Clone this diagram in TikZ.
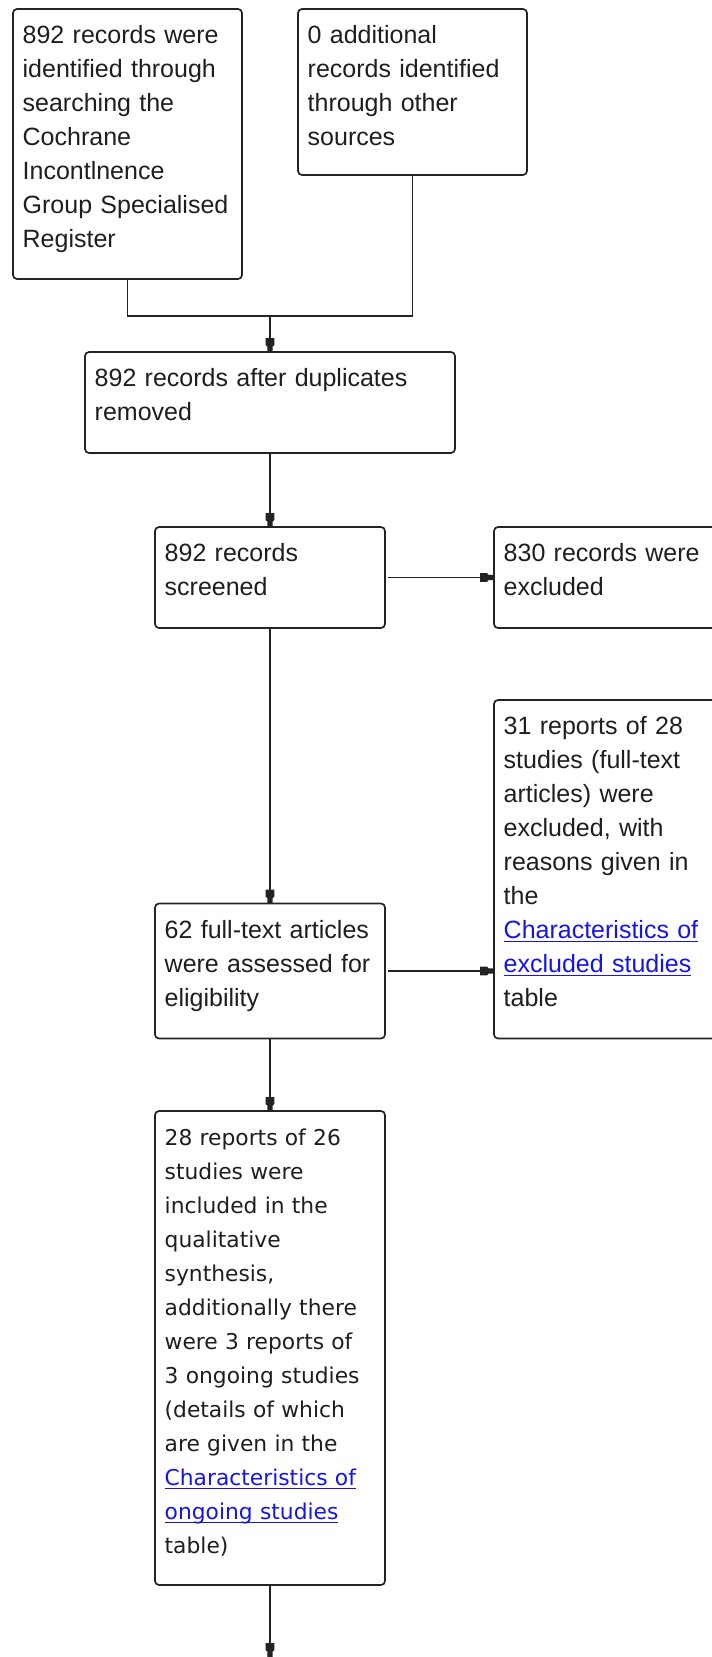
\documentclass[tikz,border=0pt]{standalone}
\usepackage{fontspec}
\setmainfont{Liberation Sans}
\newfontfamily\boxeightfont{DejaVu Sans}
\usetikzlibrary{arrows.meta}
\definecolor{linkblue}{RGB}{20,20,235}
\definecolor{ink}{RGB}{30,30,30}
\definecolor{edgec}{RGB}{35,35,35}
\newcommand{\lnk}[1]{\leavevmode{\color{linkblue}\setbox0=\hbox{#1}\rlap{\rule[-3.5pt]{\wd0}{1.4pt}}\box0}}
\pgfdeclarearrow{
  name=Blk,
  setup code={\pgfarrowssettipend{0pt}\pgfarrowssetlineend{-11pt}\pgfarrowssetbackend{-14pt}},
  drawing code={
    \pgfpathmoveto{\pgfqpoint{0pt}{2.5pt}}
    \pgfpathlineto{\pgfqpoint{-5.5pt}{2.7pt}}
    \pgfpathlineto{\pgfqpoint{-7pt}{4.4pt}}
    \pgfpathlineto{\pgfqpoint{-14pt}{4.4pt}}
    \pgfpathlineto{\pgfqpoint{-14pt}{-4.4pt}}
    \pgfpathlineto{\pgfqpoint{-7pt}{-4.4pt}}
    \pgfpathlineto{\pgfqpoint{-5.5pt}{-2.7pt}}
    \pgfpathlineto{\pgfqpoint{0pt}{-2.5pt}}
    \pgfpathclose
    \pgfusepathqfill
  }
}
\begin{document}
\begin{tikzpicture}[x=1pt,y=-1pt,
  box/.style={draw=edgec, line width=1.7pt, rounded corners=4pt, inner sep=0pt, outer sep=0pt, anchor=north west},
  txt/.style={anchor=base west, inner sep=0pt, text width=330pt, align=left, text=ink, font=\fontsize{25}{34}\selectfont},
  txtb/.style={txt, font=\boxeightfont\fontsize{21.8}{34}\selectfont},
  conn/.style={draw=edgec, line width=1.7pt},
  arr/.style={conn, -{Blk}}
]
\useasboundingbox (0,0) rectangle (712,1657);

\node[box, minimum width=229pt, minimum height=270pt] (b1) at (13,9) {};
\node[box, minimum width=229pt, minimum height=166pt] (b2) at (298,9) {};
\node[box, minimum width=370pt, minimum height=101pt] (b3) at (85,352) {};
\node[box, minimum width=230pt, minimum height=101pt] (b4) at (155,527) {};
\node[box, minimum width=230pt, minimum height=101pt] (b5) at (494,527) {};
\node[box, minimum width=230pt, minimum height=338.5pt] (b6) at (494,700) {};
\node[box, minimum width=230pt, minimum height=135pt] (b7) at (155,903.5) {};
\node[box, minimum width=230pt, minimum height=474pt] (b8) at (155,1111) {};

\node[txt] (t1) at (22.5,43.5) {892 records were\\identified through\\searching the\\Cochrane\\Incontlnence\\Group Specialised\\Register};
\node[txt] (t2) at (307.5,43.5) {0 additional\\records identified\\through other\\sources};
\node[txt] (t3) at (94.5,386.5) {892 records after duplicates\\removed};
\node[txt] (t4) at (164.5,561.5) {892 records\\screened};
\node[txt] (t5) at (503.5,561.5) {830 records were\\excluded};
\node[txt] (t6) at (503.5,734.5) {31 reports of 28\\studies (full-text\\articles) were\\excluded, with\\reasons given in\\the\\\lnk{Characteristics of}\\\lnk{excluded studies}\\table};
\node[txt] (t7) at (164.5,938) {62 full-text articles\\were assessed for\\eligibility};
\node[txtb] (t8) at (164.5,1145.5) {28 reports of 26\\studies were\\included in the\\qualitative\\synthesis,\\additionally there\\were 3 reports of\\3 ongoing studies\\(details of which\\are given in the\\\lnk{Characteristics of}\\\lnk{ongoing studies}\\table)};

\path (b3.north) ++(0,-36) coordinate (join);
\path (b8.south) ++(0,72) coordinate (tail);
\draw[conn] (b1.south) |- (join);
\draw[conn] (b2.south) |- (join);
\draw[arr] (join) -- (b3.north);
\draw[arr] (b3.south) -- (b4.north);
\draw[arr, shorten <=3pt] (b4.east) -- (b5.west);
\draw[arr] (b4.south) -- (b7.north);
\draw[arr, shorten <=3pt] (b7.east) -- (b7.east -| b6.west);
\draw[arr] (b7.south) -- (b8.north);
\draw[arr] (b8.south) -- (tail);
\end{tikzpicture}
\end{document}
